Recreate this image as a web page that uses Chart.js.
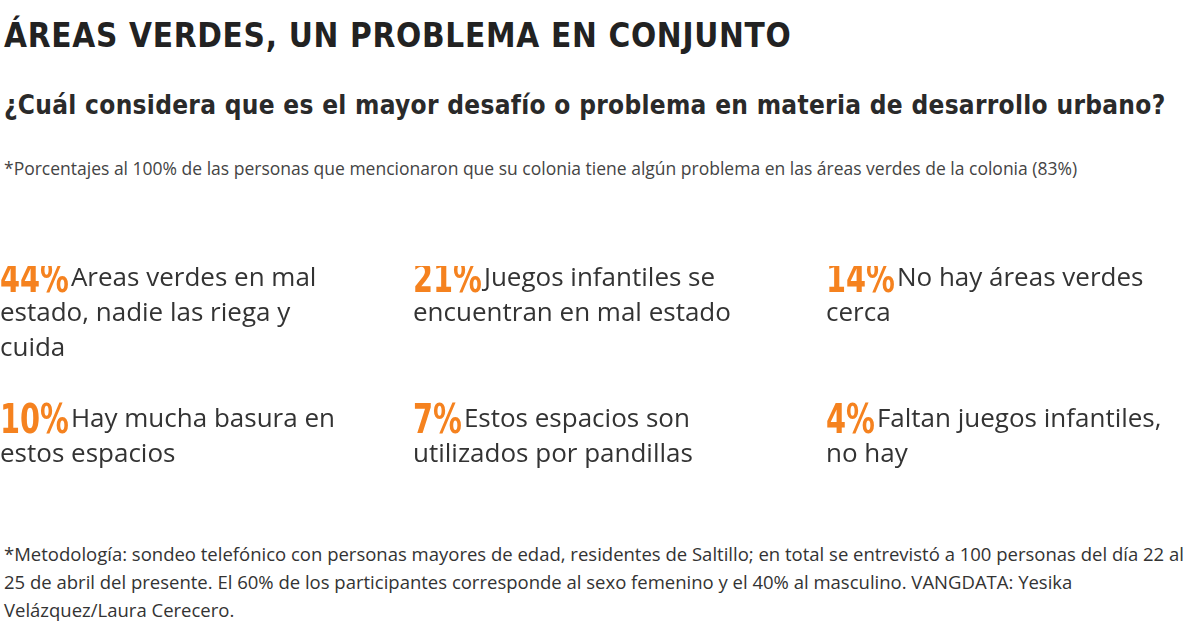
<!DOCTYPE html>
<html><head><meta charset="utf-8">
<script src="https://cdn.jsdelivr.net/npm/chart.js@4/dist/chart.umd.min.js"></script>
<style>
body{margin:0;width:1200px;height:630px;background:#fff;font-family:"Open Sans","DejaVu Sans",sans-serif;color:#222;position:relative;overflow:hidden}
.t{position:absolute;left:4px;top:16px;font:bold 33px "DejaVu Sans Condensed","Liberation Sans",sans-serif;letter-spacing:0.7px}
.s{position:absolute;left:4px;top:90px;font:bold 26px "DejaVu Sans Condensed","Liberation Sans",sans-serif;color:#2a2a2a;letter-spacing:0.3px}
.n{position:absolute;left:4px;top:152px;width:1190px;font-size:17.5px;line-height:32px;color:#444}
.f{position:absolute;left:4px;top:540px;width:1190px;font-size:18.5px;line-height:28px;color:#333}
#w{position:absolute;left:0;top:266px;width:1200px;height:240px}
</style></head><body>
<div class="t">ÁREAS VERDES, UN PROBLEMA EN CONJUNTO</div>
<div class="s">¿Cuál considera que es el mayor desafío o problema en materia de desarrollo urbano?</div>
<div class="n">*Porcentajes al 100% de las personas que mencionaron que su colonia tiene algún problema en las áreas verdes de la colonia (83%)</div>
<div id="w"><canvas id="c"></canvas></div>
<div class="f">*Metodología: sondeo telefónico con personas mayores de edad, residentes de Saltillo; en total se entrevistó a 100 personas del día 22 al 25 de abril del presente. El 60% de los participantes corresponde al sexo femenino y el 40% al masculino. VANGDATA: Yesika Velázquez/Laura Cerecero.</div>
<script>
var percents = [44, 21, 14, 10, 7, 4];
var labels = [
  ['Áreas verdes en mal', 'estado, nadie las riega y', 'cuida'],
  ['Juegos infantiles se', 'encuentran en mal estado'],
  ['No hay áreas verdes', 'cerca'],
  ['Hay mucha basura en', 'estos espacios'],
  ['Estos espacios son', 'utilizados por pandillas'],
  ['Faltan juegos infantiles,', 'no hay']
];
var columns = [0, 1, 2, 0, 1, 2];
var rows = [0, 0, 0, 1, 1, 1];

var textPlugin = {
  id: 'gridText',
  afterDatasetsDraw: function (chart) {
    var ctx = chart.ctx;
    var meta = chart.getDatasetMeta(0);
    ctx.textBaseline = 'top';
    meta.data.forEach(function (pt, i) {
      var p = percents[i] + '%';
      ctx.save();
      ctx.font = 'bold 40px "DejaVu Sans Condensed","Liberation Sans",sans-serif';
      ctx.fillStyle = '#f5821f';
      ctx.translate(pt.x, pt.y - 4);
      ctx.scale(0.8, 1);
      ctx.fillText(p, 0, 0);
      var w = ctx.measureText(p).width * 0.8 + 2;
      ctx.restore();
      ctx.save();
      ctx.textBaseline = 'top';
      ctx.font = '26px "Open Sans","DejaVu Sans",sans-serif';
      ctx.fillStyle = '#333';
      labels[i].forEach(function (line, j) {
        ctx.fillText(line, pt.x + (j === 0 ? w : 0), pt.y + j * 35);
      });
      ctx.restore();
    });
  }
};

new Chart(document.getElementById('c'), {
  type: 'scatter',
  data: {
    datasets: [{
      data: percents.map(function (v, i) { return { x: columns[i], y: rows[i] }; }),
      pointRadius: 0
    }]
  },
  options: {
    responsive: true,
    maintainAspectRatio: false,
    animation: false,
    layout: { padding: 0 },
    plugins: { legend: { display: false }, tooltip: { enabled: false } },
    scales: {
      x: { display: false, min: 0, max: 1200 / 413 },
      y: { display: false, reverse: true, min: 0, max: 240 / 141 }
    }
  },
  plugins: [textPlugin]
});
</script>
</body></html>
